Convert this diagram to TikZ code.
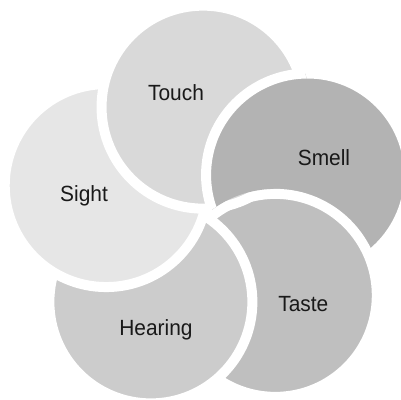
\documentclass[tikz,border=0pt]{standalone}
\usepackage{fontspec}
\setmainfont{Liberation Sans}[FakeStretch=0.95]
\definecolor{cTouch}{HTML}{D9D9D9}
\definecolor{cSight}{HTML}{E6E6E6}
\definecolor{cSmell}{HTML}{B3B3B3}
\definecolor{cTaste}{HTML}{BFBFBF}
\definecolor{cHearing}{HTML}{CCCCCC}
\begin{document}
\begin{tikzpicture}[x=1pt,y=1pt,
  petal/.style={draw=white, line width=10pt},
  lbl/.style={font=\fontsize{22}{26}\selectfont, anchor=base, text=black!90, inner sep=0pt}]
\fill[white] (0,0) rectangle (401,399);
\clip (0,0) rectangle (401,399);
\coordinate (O) at (208.6,186);
\def\R{106}
\def\r{101.5}
\path (O) ++(21:\R) coordinate (smellc);
\path (O) ++(93:\R) coordinate (touchc);
\path (O) ++(165:\R) coordinate (sightc);
\path (O) ++(237:\R) coordinate (hearingc);
\path (O) ++(309:\R) coordinate (tastec);
\path[petal, fill=cSmell] (smellc) circle (\r);
\path[petal, fill=cTaste] (tastec) circle (\r);
\path[petal, fill=cHearing] (hearingc) circle (\r);
\path[petal, fill=cSight] (sightc) circle (\r);
\path[petal, fill=cTouch] (touchc) circle (\r);
\begin{scope}[even odd rule]
  \clip (touchc) circle (107.5);
  \clip (-10,-10) rectangle (420,420) (tastec) circle (106.5);
  \path[petal, fill=cSmell, nonzero rule] (smellc) circle (\r);
\end{scope}
\node[lbl] (touch) at (176,298) {Touch};
\node[lbl] (smell) at (324,233.3) {Smell};
\node[lbl] (sight) at (84,197) {Sight};
\node[lbl] (taste) at (303.3,87.3) {Taste};
\node[lbl] (hearing) at (156,64) {Hearing};
\end{tikzpicture}
\end{document}
